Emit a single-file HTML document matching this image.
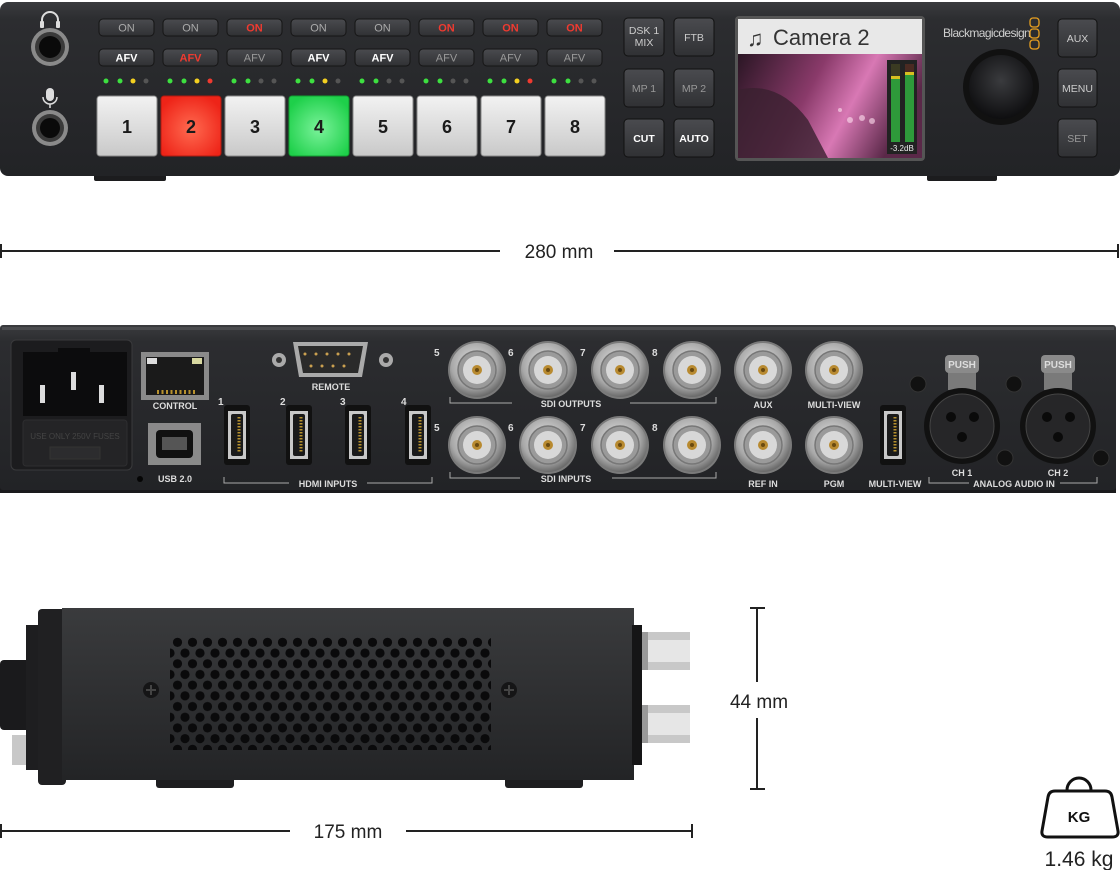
<!DOCTYPE html>
<html><head><meta charset="utf-8"><style>
html,body{margin:0;padding:0;background:#fff;}
svg{display:block;font-family:"Liberation Sans",sans-serif;}
</style></head><body>
<svg width="1120" height="870" viewBox="0 0 1120 870" xmlns="http://www.w3.org/2000/svg">
<defs>
<linearGradient id="body" x1="0" y1="0" x2="0" y2="1"><stop offset="0" stop-color="#3a3b3e"/><stop offset="0.1" stop-color="#2c2d30"/><stop offset="1" stop-color="#222326"/></linearGradient>
<linearGradient id="btn" x1="0" y1="0" x2="0" y2="1"><stop offset="0" stop-color="#4a4b4f"/><stop offset="1" stop-color="#303134"/></linearGradient>
<linearGradient id="wkey" x1="0" y1="0" x2="0" y2="1"><stop offset="0" stop-color="#f2f2f2"/><stop offset="1" stop-color="#c9c9c9"/></linearGradient>
<radialGradient id="rkey" cx="0.5" cy="0.55" r="0.6"><stop offset="0" stop-color="#ff6a50"/><stop offset="1" stop-color="#ee2418"/></radialGradient>
<radialGradient id="gkey" cx="0.5" cy="0.55" r="0.6"><stop offset="0" stop-color="#7af29a"/><stop offset="1" stop-color="#1ed04a"/></radialGradient>
<linearGradient id="img" x1="0" y1="0" x2="1" y2="0.3"><stop offset="0" stop-color="#2a1624"/><stop offset="0.45" stop-color="#8a3a6a"/><stop offset="0.7" stop-color="#d878b4"/><stop offset="1" stop-color="#5a2848"/></linearGradient>
<radialGradient id="bnc" cx="0.45" cy="0.4" r="0.6"><stop offset="0" stop-color="#e8e8e8"/><stop offset="0.7" stop-color="#a8a8a8"/><stop offset="1" stop-color="#6a6a6a"/></radialGradient>
<radialGradient id="knob" cx="0.5" cy="0.4" r="0.6"><stop offset="0" stop-color="#3a3b3e"/><stop offset="1" stop-color="#0e0e10"/></radialGradient>
<linearGradient id="side" x1="0" y1="0" x2="0" y2="1"><stop offset="0" stop-color="#3a3b3d"/><stop offset="1" stop-color="#232426"/></linearGradient>
<pattern id="hex" x="170" y="637" width="15" height="21.4" patternUnits="userSpaceOnUse">
<circle cx="7.5" cy="5.3" r="4.6" fill="#0a0a0b"/><circle cx="0" cy="16" r="4.6" fill="#0a0a0b"/><circle cx="15" cy="16" r="4.6" fill="#0a0a0b"/>
</pattern>
<g id="bncc"><circle r="29" fill="#7a7a7a"/><circle r="27" fill="url(#bnc)"/><circle r="19" fill="#9a9a9a" stroke="#777" stroke-width="1.5"/><circle r="14" fill="#d8d8d8"/><circle r="5" fill="#b88a30"/><circle r="2" fill="#6a4a10"/></g>
<g id="hdmi"><rect x="0" y="0" width="26" height="60" rx="3" fill="#111"/><path d="M4 6 h18 v48 h-18z" fill="#c8c8c8"/><rect x="7" y="9" width="12" height="42" rx="2" fill="#1a1a1a"/><line x1="15" y1="12" x2="15" y2="48" stroke="#b8922e" stroke-width="3" stroke-dasharray="1.5 1.5"/></g>
</defs>

<!-- FRONT PANEL -->
<rect x="94" y="170" width="72" height="11" rx="2" fill="#1c1c1e"/>
<rect x="927" y="170" width="70" height="11" rx="2" fill="#1c1c1e"/>
<rect x="0" y="2" width="1120" height="174" rx="8" fill="url(#body)"/>
<!-- jacks -->
<path d="M42 26 v-6 a8 8 0 0 1 16 0 v6" fill="none" stroke="#ddd" stroke-width="2"/>
<rect x="40" y="21" width="4" height="7" rx="1" fill="#ddd"/><rect x="56" y="21" width="4" height="7" rx="1" fill="#ddd"/>
<rect x="46" y="88" width="8" height="13" rx="4" fill="#ddd"/><path d="M43 97 a7 7 0 0 0 14 0" stroke="#ddd" stroke-width="1.5" fill="none"/><line x1="50" y1="104" x2="50" y2="108" stroke="#ddd" stroke-width="1.5"/>
<circle cx="50" cy="47" r="19" fill="#8a8a8a"/><circle cx="50" cy="47" r="15" fill="#3a3a3a"/><circle cx="50" cy="47" r="11" fill="#0a0a0a"/>
<circle cx="50" cy="128" r="18" fill="#8a8a8a"/><circle cx="50" cy="128" r="14" fill="#3a3a3a"/><circle cx="50" cy="128" r="10" fill="#0a0a0a"/>
<!-- ON buttons -->
<g font-size="11" text-anchor="middle">
<rect x="99" y="19" width="55" height="17" rx="4" fill="url(#btn)" stroke="#151515"/><text x="126.5" y="31.5" fill="#aaa">ON</text>
<rect x="163" y="19" width="55" height="17" rx="4" fill="url(#btn)" stroke="#151515"/><text x="190.5" y="31.5" fill="#aaa">ON</text>
<rect x="227" y="19" width="55" height="17" rx="4" fill="url(#btn)" stroke="#151515"/><text x="254.5" y="31.5" fill="#f03a30" font-weight="bold">ON</text>
<rect x="291" y="19" width="55" height="17" rx="4" fill="url(#btn)" stroke="#151515"/><text x="318.5" y="31.5" fill="#aaa">ON</text>
<rect x="355" y="19" width="55" height="17" rx="4" fill="url(#btn)" stroke="#151515"/><text x="382.5" y="31.5" fill="#aaa">ON</text>
<rect x="419" y="19" width="55" height="17" rx="4" fill="url(#btn)" stroke="#151515"/><text x="446.5" y="31.5" fill="#f03a30" font-weight="bold">ON</text>
<rect x="483" y="19" width="55" height="17" rx="4" fill="url(#btn)" stroke="#151515"/><text x="510.5" y="31.5" fill="#f03a30" font-weight="bold">ON</text>
<rect x="547" y="19" width="55" height="17" rx="4" fill="url(#btn)" stroke="#151515"/><text x="574.5" y="31.5" fill="#f03a30" font-weight="bold">ON</text>

<rect x="99" y="49" width="55" height="17" rx="4" fill="url(#btn)" stroke="#151515"/><text x="126.5" y="61.5" fill="#fff" font-weight="bold">AFV</text>
<rect x="163" y="49" width="55" height="17" rx="4" fill="url(#btn)" stroke="#151515"/><text x="190.5" y="61.5" fill="#f03a30" font-weight="bold">AFV</text>
<rect x="227" y="49" width="55" height="17" rx="4" fill="url(#btn)" stroke="#151515"/><text x="254.5" y="61.5" fill="#999">AFV</text>
<rect x="291" y="49" width="55" height="17" rx="4" fill="url(#btn)" stroke="#151515"/><text x="318.5" y="61.5" fill="#fff" font-weight="bold">AFV</text>
<rect x="355" y="49" width="55" height="17" rx="4" fill="url(#btn)" stroke="#151515"/><text x="382.5" y="61.5" fill="#fff" font-weight="bold">AFV</text>
<rect x="419" y="49" width="55" height="17" rx="4" fill="url(#btn)" stroke="#151515"/><text x="446.5" y="61.5" fill="#999">AFV</text>
<rect x="483" y="49" width="55" height="17" rx="4" fill="url(#btn)" stroke="#151515"/><text x="510.5" y="61.5" fill="#999">AFV</text>
<rect x="547" y="49" width="55" height="17" rx="4" fill="url(#btn)" stroke="#151515"/><text x="574.5" y="61.5" fill="#999">AFV</text>
</g>
<!-- LEDs -->
<g>
<circle cx="106" cy="81" r="2.5" fill="#3de040"/><circle cx="120" cy="81" r="2.5" fill="#3de040"/><circle cx="133" cy="81" r="2.5" fill="#f4d020"/><circle cx="146" cy="81" r="2.5" fill="#555"/>
<circle cx="170" cy="81" r="2.5" fill="#3de040"/><circle cx="184" cy="81" r="2.5" fill="#3de040"/><circle cx="197" cy="81" r="2.5" fill="#f4d020"/><circle cx="210" cy="81" r="2.5" fill="#f03a30"/>
<circle cx="234" cy="81" r="2.5" fill="#3de040"/><circle cx="248" cy="81" r="2.5" fill="#3de040"/><circle cx="261" cy="81" r="2.5" fill="#555"/><circle cx="274" cy="81" r="2.5" fill="#555"/>
<circle cx="298" cy="81" r="2.5" fill="#3de040"/><circle cx="312" cy="81" r="2.5" fill="#3de040"/><circle cx="325" cy="81" r="2.5" fill="#f4d020"/><circle cx="338" cy="81" r="2.5" fill="#555"/>
<circle cx="362" cy="81" r="2.5" fill="#3de040"/><circle cx="376" cy="81" r="2.5" fill="#3de040"/><circle cx="389" cy="81" r="2.5" fill="#555"/><circle cx="402" cy="81" r="2.5" fill="#555"/>
<circle cx="426" cy="81" r="2.5" fill="#3de040"/><circle cx="440" cy="81" r="2.5" fill="#3de040"/><circle cx="453" cy="81" r="2.5" fill="#555"/><circle cx="466" cy="81" r="2.5" fill="#555"/>
<circle cx="490" cy="81" r="2.5" fill="#3de040"/><circle cx="504" cy="81" r="2.5" fill="#3de040"/><circle cx="517" cy="81" r="2.5" fill="#f4d020"/><circle cx="530" cy="81" r="2.5" fill="#f03a30"/>
<circle cx="554" cy="81" r="2.5" fill="#3de040"/><circle cx="568" cy="81" r="2.5" fill="#3de040"/><circle cx="581" cy="81" r="2.5" fill="#555"/><circle cx="594" cy="81" r="2.5" fill="#555"/>
</g>
<!-- big keys -->
<g font-size="18" font-weight="bold" text-anchor="middle" fill="#1a1a1a">
<rect x="97" y="96" width="60" height="60" rx="3" fill="url(#wkey)" stroke="#888"/><text x="127" y="133">1</text>
<rect x="161" y="96" width="60" height="60" rx="3" fill="url(#rkey)" stroke="#b01a10"/><text x="191" y="133">2</text>
<rect x="225" y="96" width="60" height="60" rx="3" fill="url(#wkey)" stroke="#888"/><text x="255" y="133">3</text>
<rect x="289" y="96" width="60" height="60" rx="3" fill="url(#gkey)" stroke="#10a030"/><text x="319" y="133">4</text>
<rect x="353" y="96" width="60" height="60" rx="3" fill="url(#wkey)" stroke="#888"/><text x="383" y="133">5</text>
<rect x="417" y="96" width="60" height="60" rx="3" fill="url(#wkey)" stroke="#888"/><text x="447" y="133">6</text>
<rect x="481" y="96" width="60" height="60" rx="3" fill="url(#wkey)" stroke="#888"/><text x="511" y="133">7</text>
<rect x="545" y="96" width="60" height="60" rx="3" fill="url(#wkey)" stroke="#888"/><text x="575" y="133">8</text>
</g>
<!-- right buttons -->
<g font-size="10.5" text-anchor="middle">
<rect x="624" y="18" width="40" height="38" rx="4" fill="url(#btn)" stroke="#111"/><text x="644" y="34" fill="#ccc">DSK 1</text><text x="644" y="46" fill="#ccc">MIX</text>
<rect x="674" y="18" width="40" height="38" rx="4" fill="url(#btn)" stroke="#111"/><text x="694" y="41" fill="#ccc">FTB</text>
<rect x="624" y="69" width="40" height="38" rx="4" fill="url(#btn)" stroke="#111"/><text x="644" y="92" fill="#999">MP 1</text>
<rect x="674" y="69" width="40" height="38" rx="4" fill="url(#btn)" stroke="#111"/><text x="694" y="92" fill="#999">MP 2</text>
<rect x="624" y="119" width="40" height="38" rx="4" fill="url(#btn)" stroke="#111"/><text x="644" y="142" fill="#fff" font-weight="bold">CUT</text>
<rect x="674" y="119" width="40" height="38" rx="4" fill="url(#btn)" stroke="#111"/><text x="694" y="142" fill="#fff" font-weight="bold">AUTO</text>
<rect x="1058" y="19" width="39" height="38" rx="4" fill="url(#btn)" stroke="#111"/><text x="1077.5" y="42" fill="#ccc">AUX</text>
<rect x="1058" y="69" width="39" height="38" rx="4" fill="url(#btn)" stroke="#111"/><text x="1077.5" y="92" fill="#ccc">MENU</text>
<rect x="1058" y="119" width="39" height="38" rx="4" fill="url(#btn)" stroke="#111"/><text x="1077.5" y="142" fill="#999">SET</text>
</g>
<!-- LCD -->
<rect x="735" y="16" width="190" height="145" rx="4" fill="#555"/>
<rect x="738" y="19" width="184" height="35" fill="#e8e8e8"/>
<text x="747" y="46" font-size="22" fill="#333">♫</text>
<text x="773" y="45" font-size="22" fill="#333">Camera 2</text>
<rect x="738" y="54" width="184" height="104" fill="url(#img)"/>
<path d="M738 90 q40 -10 70 30 l20 38 h-90z" fill="#3a2030" opacity="0.8"/>
<g fill="#ffe0f0" opacity="0.6"><circle cx="850" cy="120" r="3"/><circle cx="862" cy="118" r="3"/><circle cx="872" cy="121" r="3"/><circle cx="840" cy="110" r="2"/></g>
<rect x="887" y="60" width="30" height="94" fill="#222"/>
<rect x="891" y="64" width="9" height="78" fill="#2e9a3a"/><rect x="891" y="64" width="9" height="12" fill="#3a3a22"/><rect x="891" y="76" width="9" height="3" fill="#d8c020"/>
<rect x="905" y="64" width="9" height="78" fill="#2e9a3a"/><rect x="905" y="64" width="9" height="8" fill="#4a2a22"/><rect x="905" y="72" width="9" height="3" fill="#d8c020"/>
<text x="902" y="151" font-size="8" fill="#eee" text-anchor="middle">-3.2dB</text>
<!-- logo -->
<text x="943" y="37" font-size="12" fill="#cfcfcf" letter-spacing="-0.6">Blackmagicdesign</text>
<g fill="none" stroke="#e8a020" stroke-width="1.3"><rect x="1030" y="18" width="9" height="9" rx="3"/><rect x="1030" y="29" width="9" height="9" rx="3"/><rect x="1030" y="40" width="9" height="9" rx="3"/></g>
<circle cx="1001" cy="87" r="38" fill="#111"/><circle cx="1001" cy="87" r="32" fill="url(#knob)"/>

<!-- DIMENSION 280 -->
<g stroke="#222" stroke-width="2">
<line x1="1" y1="251" x2="500" y2="251"/><line x1="614" y1="251" x2="1118" y2="251"/>
<line x1="1" y1="244" x2="1" y2="258"/><line x1="1118" y1="244" x2="1118" y2="258"/>
</g>
<text x="559" y="258" font-size="19" fill="#222" text-anchor="middle">280 mm</text>

<!-- REAR PANEL -->
<rect x="0" y="485" width="1116" height="8" fill="#1a1a1c"/>
<rect x="0" y="325" width="1116" height="165" rx="3" fill="url(#body)"/>
<rect x="2" y="327" width="1112" height="3" fill="#4a4b4e"/>
<!-- power -->
<rect x="11" y="340" width="121" height="130" rx="5" fill="#1c1c1e" stroke="#3a3a3c"/>
<path d="M23 352 h35 v-4 h32 v4 h37 v64 h-104z" fill="#0c0c0d"/>
<rect x="40" y="385" width="5" height="18" fill="#ddd"/><rect x="71" y="372" width="5" height="18" fill="#ddd"/><rect x="99" y="385" width="5" height="18" fill="#ddd"/>
<rect x="23" y="420" width="104" height="46" rx="3" fill="#242426" stroke="#2e2e30"/>
<text x="75" y="439" font-size="8" fill="#444" text-anchor="middle">USE ONLY 250V FUSES</text>
<rect x="50" y="447" width="50" height="12" fill="#2c2c2e" stroke="#333"/>
<circle cx="140" cy="479" r="3" fill="#050505"/>
<!-- ethernet -->
<rect x="141" y="352" width="68" height="48" fill="#8a8a8a"/><rect x="146" y="357" width="58" height="38" fill="#1a1a1a"/>
<rect x="147" y="358" width="10" height="6" fill="#ddd"/><rect x="192" y="358" width="10" height="6" fill="#d8d8a0"/>
<line x1="157" y1="392" x2="195" y2="392" stroke="#b8922e" stroke-width="4" stroke-dasharray="2 2.5"/>
<text x="175" y="409" font-size="9" font-weight="bold" fill="#ddd" text-anchor="middle">CONTROL</text>
<!-- usb -->
<rect x="148" y="423" width="53" height="42" fill="#8a8a8a"/><rect x="156" y="430" width="37" height="28" rx="4" fill="#111"/><rect x="162" y="437" width="25" height="13" fill="#555"/>
<text x="175" y="482" font-size="9" font-weight="bold" fill="#ddd" text-anchor="middle">USB 2.0</text>
<!-- db9 -->
<circle cx="279" cy="360" r="7" fill="#aaa"/><circle cx="279" cy="360" r="3" fill="#333"/>
<circle cx="386" cy="360" r="7" fill="#aaa"/><circle cx="386" cy="360" r="3" fill="#333"/>
<path d="M293 342 h75 l-6 35 h-63z" fill="#aaa"/><path d="M298 346 h65 l-5 27 h-55z" fill="#2a2a2a"/>
<g fill="#caa050"><circle cx="305" cy="354" r="1.5"/><circle cx="316" cy="354" r="1.5"/><circle cx="327" cy="354" r="1.5"/><circle cx="338" cy="354" r="1.5"/><circle cx="349" cy="354" r="1.5"/><circle cx="311" cy="366" r="1.5"/><circle cx="322" cy="366" r="1.5"/><circle cx="333" cy="366" r="1.5"/><circle cx="344" cy="366" r="1.5"/></g>
<text x="331" y="390" font-size="9" font-weight="bold" fill="#ddd" text-anchor="middle">REMOTE</text>
<!-- hdmi -->
<g font-size="10" font-weight="bold" fill="#ddd">
<text x="218" y="405">1</text><text x="280" y="405">2</text><text x="340" y="405">3</text><text x="401" y="405">4</text>
</g>
<use href="#hdmi" x="224" y="405"/><use href="#hdmi" x="286" y="405"/><use href="#hdmi" x="345" y="405"/><use href="#hdmi" x="405" y="405"/>
<g stroke="#aaa" stroke-width="1" fill="none">
<path d="M224 477 v6 h65"/><path d="M367 483 h65 v-6"/>
<path d="M450 397 v6 h62"/><path d="M630 403 h86 v-6"/>
<path d="M450 472 v6 h70"/><path d="M612 478 h104 v-6"/>
<path d="M929 477 v6 h40"/><path d="M1060 483 h37 v-6"/>
</g>
<g font-size="9" font-weight="bold" fill="#ddd" text-anchor="middle">
<text x="328" y="487">HDMI INPUTS</text>
<text x="571" y="407">SDI OUTPUTS</text>
<text x="566" y="482">SDI INPUTS</text>
<text x="763" y="408">AUX</text><text x="834" y="408">MULTI-VIEW</text>
<text x="763" y="487">REF IN</text><text x="834" y="487">PGM</text>
<text x="895" y="487">MULTI-VIEW</text>
<text x="962" y="476">CH 1</text><text x="1058" y="476">CH 2</text>
<text x="1014" y="487">ANALOG AUDIO IN</text>
</g>
<g font-size="10" font-weight="bold" fill="#ddd">
<text x="434" y="356">5</text><text x="508" y="356">6</text><text x="580" y="356">7</text><text x="652" y="356">8</text>
<text x="434" y="431">5</text><text x="508" y="431">6</text><text x="580" y="431">7</text><text x="652" y="431">8</text>
</g>
<use href="#bncc" x="477" y="370"/><use href="#bncc" x="548" y="370"/><use href="#bncc" x="620" y="370"/><use href="#bncc" x="692" y="370"/><use href="#bncc" x="763" y="370"/><use href="#bncc" x="834" y="370"/>
<use href="#bncc" x="477" y="445"/><use href="#bncc" x="548" y="445"/><use href="#bncc" x="620" y="445"/><use href="#bncc" x="692" y="445"/><use href="#bncc" x="763" y="445"/><use href="#bncc" x="834" y="445"/>
<use href="#hdmi" x="880" y="405"/>
<!-- xlr -->
<g>
<circle cx="918" cy="384" r="8" fill="#111" stroke="#333"/><circle cx="1005" cy="458" r="8" fill="#111" stroke="#333"/>
<rect x="948" y="370" width="28" height="20" fill="#7a7a7a"/>
<circle cx="962" cy="426" r="38" fill="#111"/><circle cx="962" cy="426" r="32" fill="#262628" stroke="#444"/>
<rect x="945" y="355" width="34" height="18" rx="4" fill="#8a8a8a"/><text x="962" y="368" font-size="10" font-weight="bold" fill="#ddd" text-anchor="middle">PUSH</text>
<circle cx="951" cy="417" r="5" fill="#0a0a0a"/><circle cx="974" cy="417" r="5" fill="#0a0a0a"/><circle cx="962" cy="437" r="5" fill="#0a0a0a"/>
<circle cx="1014" cy="384" r="8" fill="#111" stroke="#333"/><circle cx="1101" cy="458" r="8" fill="#111" stroke="#333"/>
<rect x="1044" y="370" width="28" height="20" fill="#7a7a7a"/>
<circle cx="1058" cy="426" r="38" fill="#111"/><circle cx="1058" cy="426" r="32" fill="#262628" stroke="#444"/>
<rect x="1041" y="355" width="34" height="18" rx="4" fill="#8a8a8a"/><text x="1058" y="368" font-size="10" font-weight="bold" fill="#ddd" text-anchor="middle">PUSH</text>
<circle cx="1047" cy="417" r="5" fill="#0a0a0a"/><circle cx="1070" cy="417" r="5" fill="#0a0a0a"/><circle cx="1058" cy="437" r="5" fill="#0a0a0a"/>
</g>

<!-- SIDE VIEW -->
<rect x="156" y="775" width="78" height="13" rx="3" fill="#1e1e20"/>
<rect x="505" y="775" width="78" height="13" rx="3" fill="#1e1e20"/>
<rect x="0" y="660" width="30" height="70" rx="4" fill="#1a1a1c"/>
<rect x="12" y="735" width="16" height="30" fill="#c8c8c8"/>
<rect x="26" y="625" width="18" height="145" fill="#1e1e20"/>
<rect x="38" y="609" width="28" height="176" rx="4" fill="#202022"/>
<rect x="62" y="608" width="572" height="172" fill="url(#side)"/>
<rect x="632" y="625" width="10" height="140" fill="#151516"/>
<rect x="170" y="637" width="321" height="113" fill="url(#hex)"/>
<circle cx="151" cy="690" r="8" fill="#151516"/><path d="M146 690 h10 M151 685 v10" stroke="#444" stroke-width="2"/>
<circle cx="509" cy="690" r="8" fill="#151516"/><path d="M504 690 h10 M509 685 v10" stroke="#444" stroke-width="2"/>
<g>
<rect x="642" y="632" width="48" height="38" fill="#c8c8c8"/><rect x="642" y="640" width="48" height="22" fill="#e6e6e6"/><rect x="642" y="632" width="6" height="38" fill="#999"/>
<rect x="642" y="705" width="48" height="38" fill="#c8c8c8"/><rect x="642" y="713" width="48" height="22" fill="#e6e6e6"/><rect x="642" y="705" width="6" height="38" fill="#999"/>
</g>

<!-- 44 mm -->
<g stroke="#222" stroke-width="2">
<line x1="757" y1="608" x2="757" y2="682"/><line x1="757" y1="718" x2="757" y2="789"/>
<line x1="750" y1="608" x2="765" y2="608"/><line x1="750" y1="789" x2="765" y2="789"/>
</g>
<text x="759" y="708" font-size="19" fill="#222" text-anchor="middle">44 mm</text>

<!-- 175 mm -->
<g stroke="#222" stroke-width="2">
<line x1="1" y1="831" x2="290" y2="831"/><line x1="406" y1="831" x2="692" y2="831"/>
<line x1="1" y1="824" x2="1" y2="838"/><line x1="692" y1="824" x2="692" y2="838"/>
</g>
<text x="348" y="838" font-size="19" fill="#222" text-anchor="middle">175 mm</text>

<!-- KG -->
<path d="M1067 790 a12 12 0 0 1 24 0" fill="none" stroke="#111" stroke-width="3"/>
<path d="M1055 791 h50 q6 0 7 6 l6 34 q1 6 -6 6 h-64 q-7 0 -6 -6 l6 -34 q1 -6 7 -6z" fill="none" stroke="#111" stroke-width="3"/>
<text x="1079" y="822" font-size="15" font-weight="bold" fill="#111" text-anchor="middle">KG</text>
<text x="1079" y="866" font-size="21" fill="#222" text-anchor="middle">1.46 kg</text>
</svg>
</body></html>
